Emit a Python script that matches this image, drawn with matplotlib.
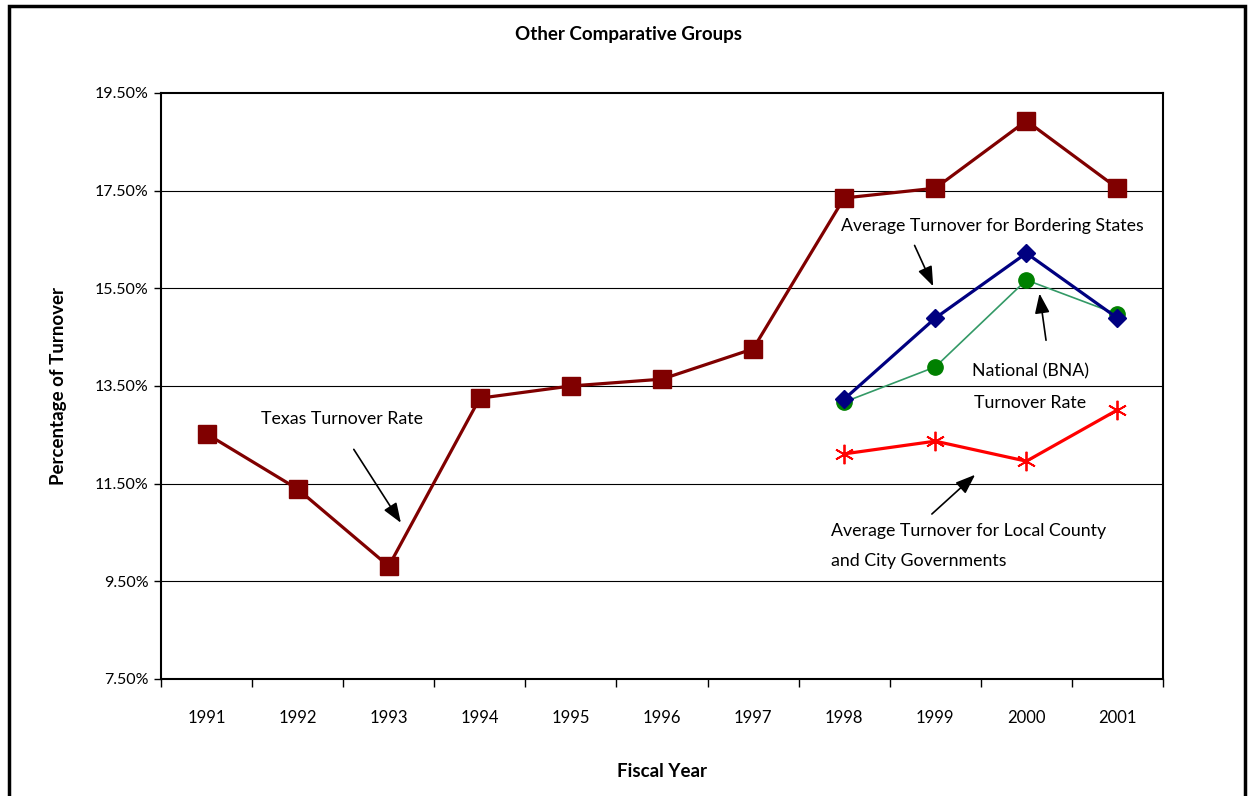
import numpy as np
import matplotlib.pyplot as plt
from matplotlib.patches import Rectangle
from matplotlib.ticker import FixedLocator, FuncFormatter

years = ['1991', '1992', '1993', '1994', '1995', '1996', '1997', '1998', '1999', '2000', '2001']
texas = [12.52, 11.39, 9.81, 13.25, 13.50, 13.64, 14.26, 17.35, 17.55, 18.93, 17.55]
bordering = [13.23, 14.89, 16.22, 14.89]
national = [13.17, 13.89, 15.67, 14.97]
local = [12.11, 12.37, 11.96, 13.01]
recent_years = ['1998', '1999', '2000', '2001']

plt.rcParams['font.family'] = ['Lato', 'DejaVu Sans']

fig = plt.figure(figsize=(12.48, 7.96), dpi=100)
ax = fig.add_axes([0.129, 0.147, 0.8029, 0.7362])

x_all = np.arange(len(years))
x_recent = np.array([years.index(y) for y in recent_years])

ax.plot(x_all, texas, color='#800000', lw=2.3, marker='s', ms=12.5, zorder=5)
ax.plot(x_recent, national, color='#339966', lw=1.2, marker='o', ms=11,
        markerfacecolor='#008000', markeredgecolor='#008000', zorder=4)
ax.plot(x_recent, bordering, color='#000080', lw=2.3, marker='D', ms=9.5, zorder=5)
ax.plot(x_recent, local, color='#ff0000', lw=2.3, marker=(6, 2, 0), ms=14,
        markeredgewidth=1.3, zorder=5)

ax.set_xlim(-0.5, len(years) - 0.5)
ax.set_ylim(7.5, 19.5)
ax.yaxis.set_major_locator(FixedLocator(np.arange(7.5, 19.6, 2.0)))
ax.yaxis.set_major_formatter(FuncFormatter(lambda v, p: '%.2f%%' % v))
for yv in np.arange(9.5, 19.0, 2.0):
    ax.axhline(yv, color='black', lw=0.8, zorder=1)

# category labels centred, tick marks between categories
ax.set_xticks(np.arange(-0.5, len(years), 1.0))
ax.set_xticklabels([])
ax.set_xticks(x_all, minor=True)
ax.set_xticklabels(years, minor=True, fontsize=12)
ax.tick_params(axis='x', which='minor', length=0, pad=22)
ax.tick_params(axis='x', which='major', length=6, width=1, direction='out')
ax.tick_params(axis='y', length=5, width=1, labelsize=11.5, pad=4)
for s in ax.spines.values():
    s.set_linewidth(1.5)

ax.set_ylabel('Percentage of Turnover', fontsize=13.5, fontweight='bold', labelpad=20)
ax.set_xlabel('Fiscal Year', fontsize=13.5, fontweight='bold', labelpad=27)
fig.text(0.504, 0.957, 'Other Comparative Groups', ha='center', va='center',
         fontsize=13.5, fontweight='bold')

fs = 12.8
arrow = dict(arrowstyle='-|>,head_length=1.2,head_width=0.45', color='black', lw=1.2)
ax.annotate('', xy=(2.15, 10.65), xytext=(1.6, 12.25), arrowprops=arrow)
ax.text(1.49, 12.82, 'Texas Turnover Rate', ha='center', va='center', fontsize=fs)

ax.annotate('', xy=(7.99, 15.49), xytext=(7.76, 16.43), arrowprops=arrow)
ax.text(6.96, 16.78, 'Average Turnover for Bordering States', ha='left', va='center', fontsize=fs)

ax.annotate('', xy=(9.14, 15.45), xytext=(9.22, 14.38), arrowprops=arrow)
ax.text(9.04, 13.79, 'National (BNA)', ha='center', va='center', fontsize=fs)
ax.text(9.04, 13.15, 'Turnover Rate', ha='center', va='center', fontsize=fs)

ax.annotate('', xy=(8.46, 11.72), xytext=(7.94, 10.84), arrowprops=arrow)
ax.text(6.85, 10.53, 'Average Turnover for Local County', ha='left', va='center', fontsize=fs)
ax.text(6.85, 9.92, 'and City Governments', ha='left', va='center', fontsize=fs)

fig.patches.append(Rectangle((9 / 1248, -0.05), 1236 / 1248, 1.05 - 6 / 796,
                             transform=fig.transFigure, fill=False,
                             edgecolor='black', lw=2.5))

fig.savefig('out.png', dpi=100)
